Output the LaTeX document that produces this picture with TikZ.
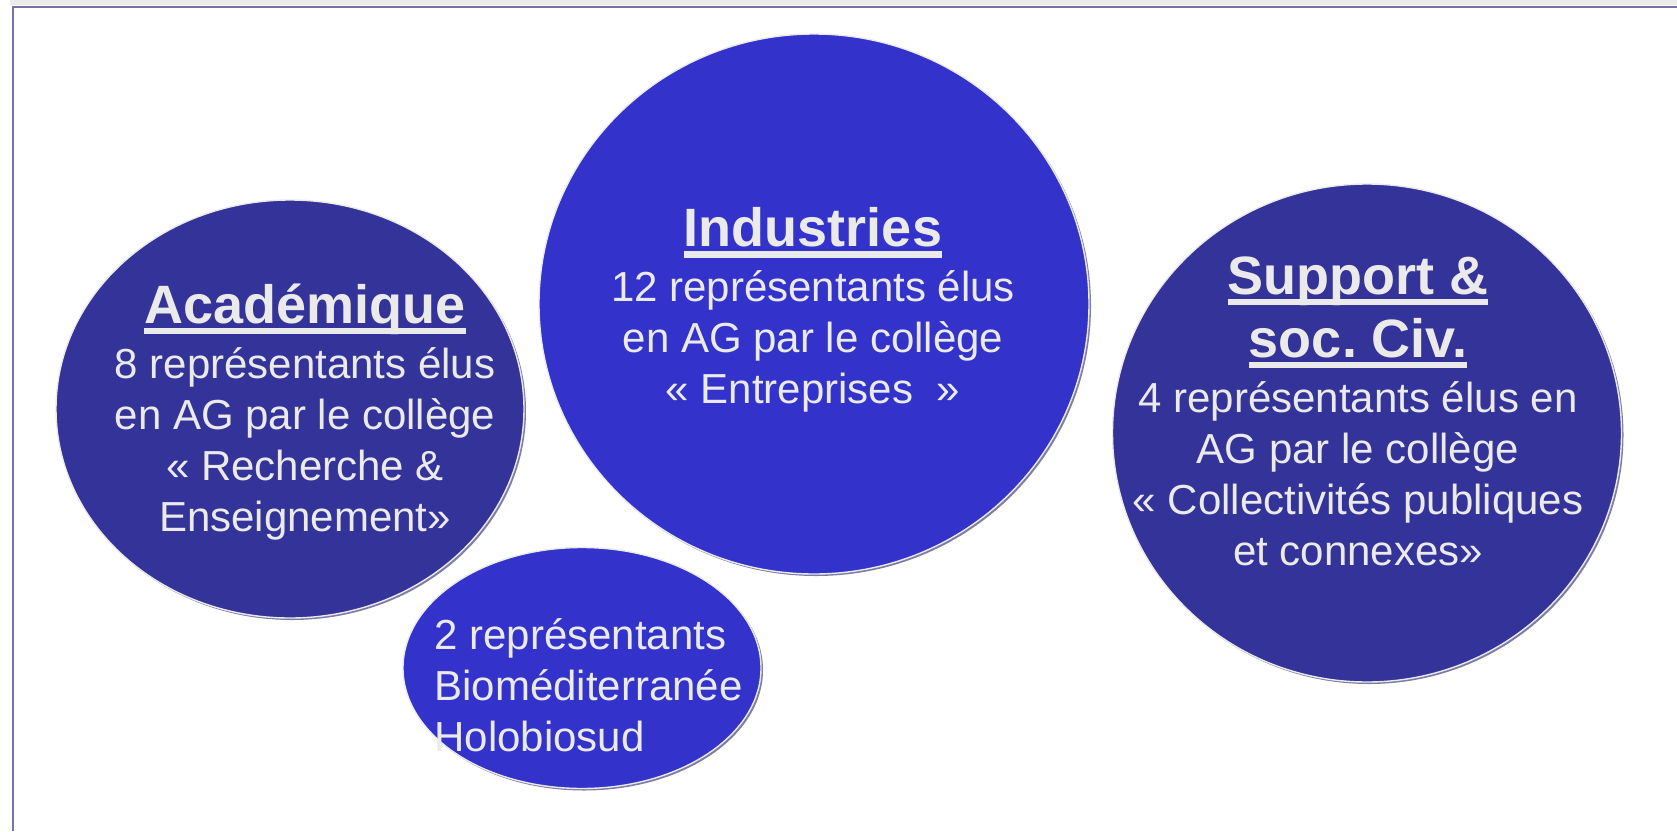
\documentclass[tikz,border=0pt]{standalone}
\usepackage{fontspec}
\setmainfont{Liberation Sans}
\usetikzlibrary{shapes.geometric}

\definecolor{darkcol}{HTML}{333399}
\definecolor{brightcol}{HTML}{3333CC}
\definecolor{inkcol}{HTML}{EAEAEA}
\definecolor{framecol}{HTML}{7474A8}
\definecolor{shadecol}{HTML}{7C7CA4}

% underlined heading
\newcommand{\ttl}[1]{\setbox0\hbox{\fontsize{27}{27}\bfseries #1}%
  \rlap{\smash{\rule[-5.5pt]{\wd0}{3.2pt}}}\box0}
\frenchspacing

\begin{document}
\begin{tikzpicture}[x=0.5pt, y=-0.5pt]
  \tikzstyle{college} = [ellipse, inner sep=0pt, draw=inkcol, line width=0.7pt]
  \tikzstyle{shade} = [ellipse, inner sep=0pt, fill=shadecol]
  \tikzstyle{txt} = [text=inkcol, align=center, inner sep=0pt, font=\fontsize{21}{25.5}\selectfont]
  \useasboundingbox (0,0) rectangle (1677,831);
  \fill [white] (0,0) rectangle (1677,831);
  \fill [gray!15] (10,0) rectangle (1677,5);
  \draw [framecol, line width=1pt] (12.5,831) -- (12.5,6.5) -- (1677,6.5);

  % shadows
  \node (acas) [shade, minimum width=234pt, minimum height=209pt] at (292,411) {};
  \node (inds) [shade, minimum width=275pt, minimum height=270pt] at (816,306) {};
  \node (sups) [shade, minimum width=254.5pt, minimum height=249pt] at (1369,435) {};
  \node (bios) [shade, minimum width=179pt, minimum height=120.5pt] at (584,670) {};

  % colleges
  \node (aca) [college, fill=darkcol, minimum width=234pt, minimum height=209pt] at (290,409) {};
  \node (ind) [college, fill=brightcol, minimum width=275pt, minimum height=270pt] at (814,304) {};
  \node (sup) [college, fill=darkcol, minimum width=254.5pt, minimum height=249pt] at (1367,433) {};
  \node (bio) [college, fill=brightcol, minimum width=179pt, minimum height=120.5pt] at (582,668) {};

  % texts
  \node (acat) [txt] at (305,412) {\ttl{Académique}\\[2pt]8 représentants élus\\en AG par le collège\\« Recherche \&\\Enseignement»};
  \node (indt) [txt] at (813,310) {\ttl{Industries}\\[2.2pt]12 représentants élus\\en AG par le collège\\« Entreprises~~»};
  \node (supt) [txt] at (1358,411) {\ttl{Support \&}\\[6pt]\ttl{soc. Civ.}\\[2pt]4 représentants élus en\\AG par le collège\\« Collectivités publiques\\et connexes»};
  \node (biot) [txt, align=left, anchor=west] at (434,685) {2 représentants\\Bioméditerranée\\Holobiosud};
\end{tikzpicture}
\end{document}
